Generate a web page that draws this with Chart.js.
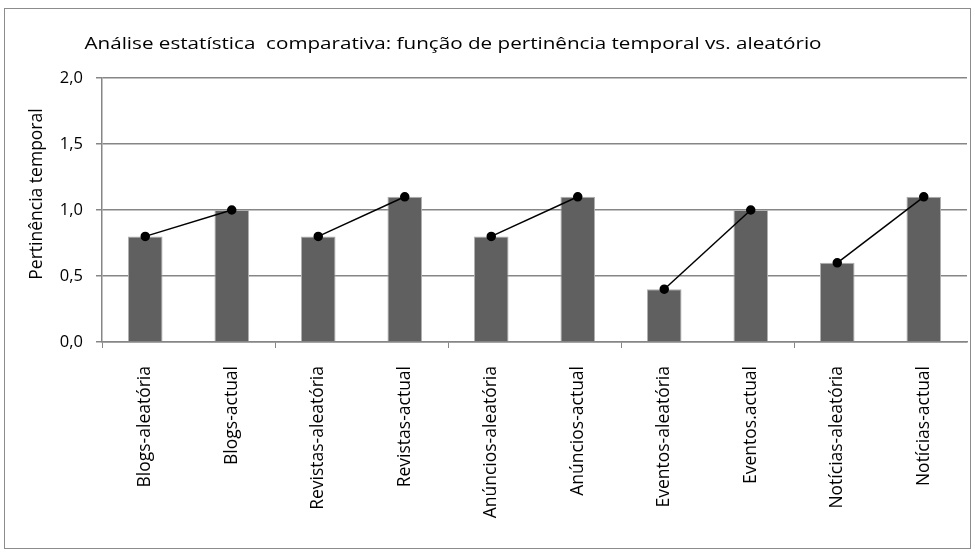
<!DOCTYPE html>
<html>
<head>
<meta charset="utf-8">
<script src="https://cdn.jsdelivr.net/npm/chart.js@4.4.1/dist/chart.umd.min.js"></script>
<style>
    html, body { margin: 0; padding: 0; background: #fff; }
    #frame {
        position: absolute; left: 4px; top: 8px;
        width: 965px; height: 539px;
        border: 1px solid #8c8c8c;
    }
    #wrap { position: absolute; left: 0; top: 0; width: 975px; height: 555px; }
</style>
</head>
<body>
<div id="frame"></div>
<div id="wrap"><canvas id="grafico" width="975" height="555"></canvas></div>
<script>
// Dados do gráfico
const categorias = ["Blogs-aleatória", "Blogs-actual", "Revistas-aleatória", "Revistas-actual",
    "Anúncios-aleatória", "Anúncios-actual", "Eventos-aleatória", "Eventos.actual",
    "Notícias-aleatória", "Notícias-actual"];
const valores = [0.8, 1.0, 0.8, 1.1, 0.8, 1.1, 0.4, 1.0, 0.6, 1.1];
const yTicks = [0, 0.5, 1.0, 1.5, 2.0];

const titulo = "Análise estatística  comparativa: função de pertinência temporal vs. aleatório";
const tituloEixoY = "Pertinência temporal";

const fonte = "'Open Sans', 'DejaVu Sans', sans-serif";
const cinza = "#868686";

// Linhas: uma por par (aleatória -> actual)
const linhas = [];
for (let p = 0; p < categorias.length / 2; p++) {
    linhas.push({
        type: "line",
        data: valores.map((v, i) => Math.floor(i / 2) === p ? v : null),
        borderColor: "#000",
        backgroundColor: "#000",
        borderWidth: 1.5,
        pointRadius: 4,
        pointHoverRadius: 4,
        spanGaps: false,
        order: 0
    });
}

// Títulos desenhados à mão (no original não estão centrados no gráfico)
const pluginTitulos = {
    id: "pluginTitulos",
    afterDraw(chart) {
        const ctx = chart.ctx;
        ctx.save();
        ctx.fillStyle = "#000";
        ctx.textAlign = "center";
        ctx.textBaseline = "middle";

        // título principal, um pouco esticado na horizontal como no original
        ctx.font = "16px " + fonte;
        const larg = ctx.measureText(titulo).width;
        ctx.save();
        ctx.translate(453, 44);
        ctx.scale(737 / larg, 1);
        ctx.fillText(titulo, 0, 0);
        ctx.restore();

        // título do eixo Y
        ctx.font = "17.5px " + fonte;
        ctx.translate(37, 194);
        ctx.rotate(-Math.PI / 2);
        ctx.fillText(tituloEixoY, 0, 0);
        ctx.restore();
    }
};

const ctx = document.getElementById("grafico").getContext("2d");
new Chart(ctx, {
    type: "bar",
    data: {
        labels: categorias,
        datasets: [{
            type: "bar",
            data: valores,
            backgroundColor: "#606060",
            borderColor: "#b0b0b0",
            borderWidth: 1,
            categoryPercentage: 1,
            barPercentage: 0.4,
            order: 1
        }].concat(linhas)
    },
    options: {
        responsive: false,
        animation: false,
        layout: { padding: { left: 20, top: 78, right: 8, bottom: 0 } },
        plugins: {
            legend: { display: false },
            tooltip: { enabled: false },
            title: { display: false }
        },
        scales: {
            x: {
                offset: true,
                grid: {
                    offset: true,
                    drawOnChartArea: false,
                    drawTicks: true,
                    tickLength: 6,
                    color: c => c.index % 2 === 0 ? cinza : "rgba(0,0,0,0)"
                },
                border: { color: cinza, width: 1.5 },
                ticks: {
                    autoSkip: false,
                    maxRotation: 90,
                    minRotation: 90,
                    padding: 18,
                    color: "#000",
                    font: { family: fonte, size: 17.5 }
                },
                afterFit: s => { s.height = 213; }
            },
            y: {
                min: 0,
                max: 2,
                afterBuildTicks: s => { s.ticks = yTicks.map(v => ({ value: v })); },
                grid: { color: cinza, lineWidth: 1.5, tickLength: 6 },
                border: { color: cinza, width: 1.5 },
                ticks: {
                    padding: 13,
                    color: "#000",
                    font: { family: fonte, size: 16.5 },
                    callback: v => v.toFixed(1).replace(".", ",")
                },
                afterFit: s => { s.width = 82; }
            }
        }
    },
    plugins: [pluginTitulos]
});
</script>
</body>
</html>
